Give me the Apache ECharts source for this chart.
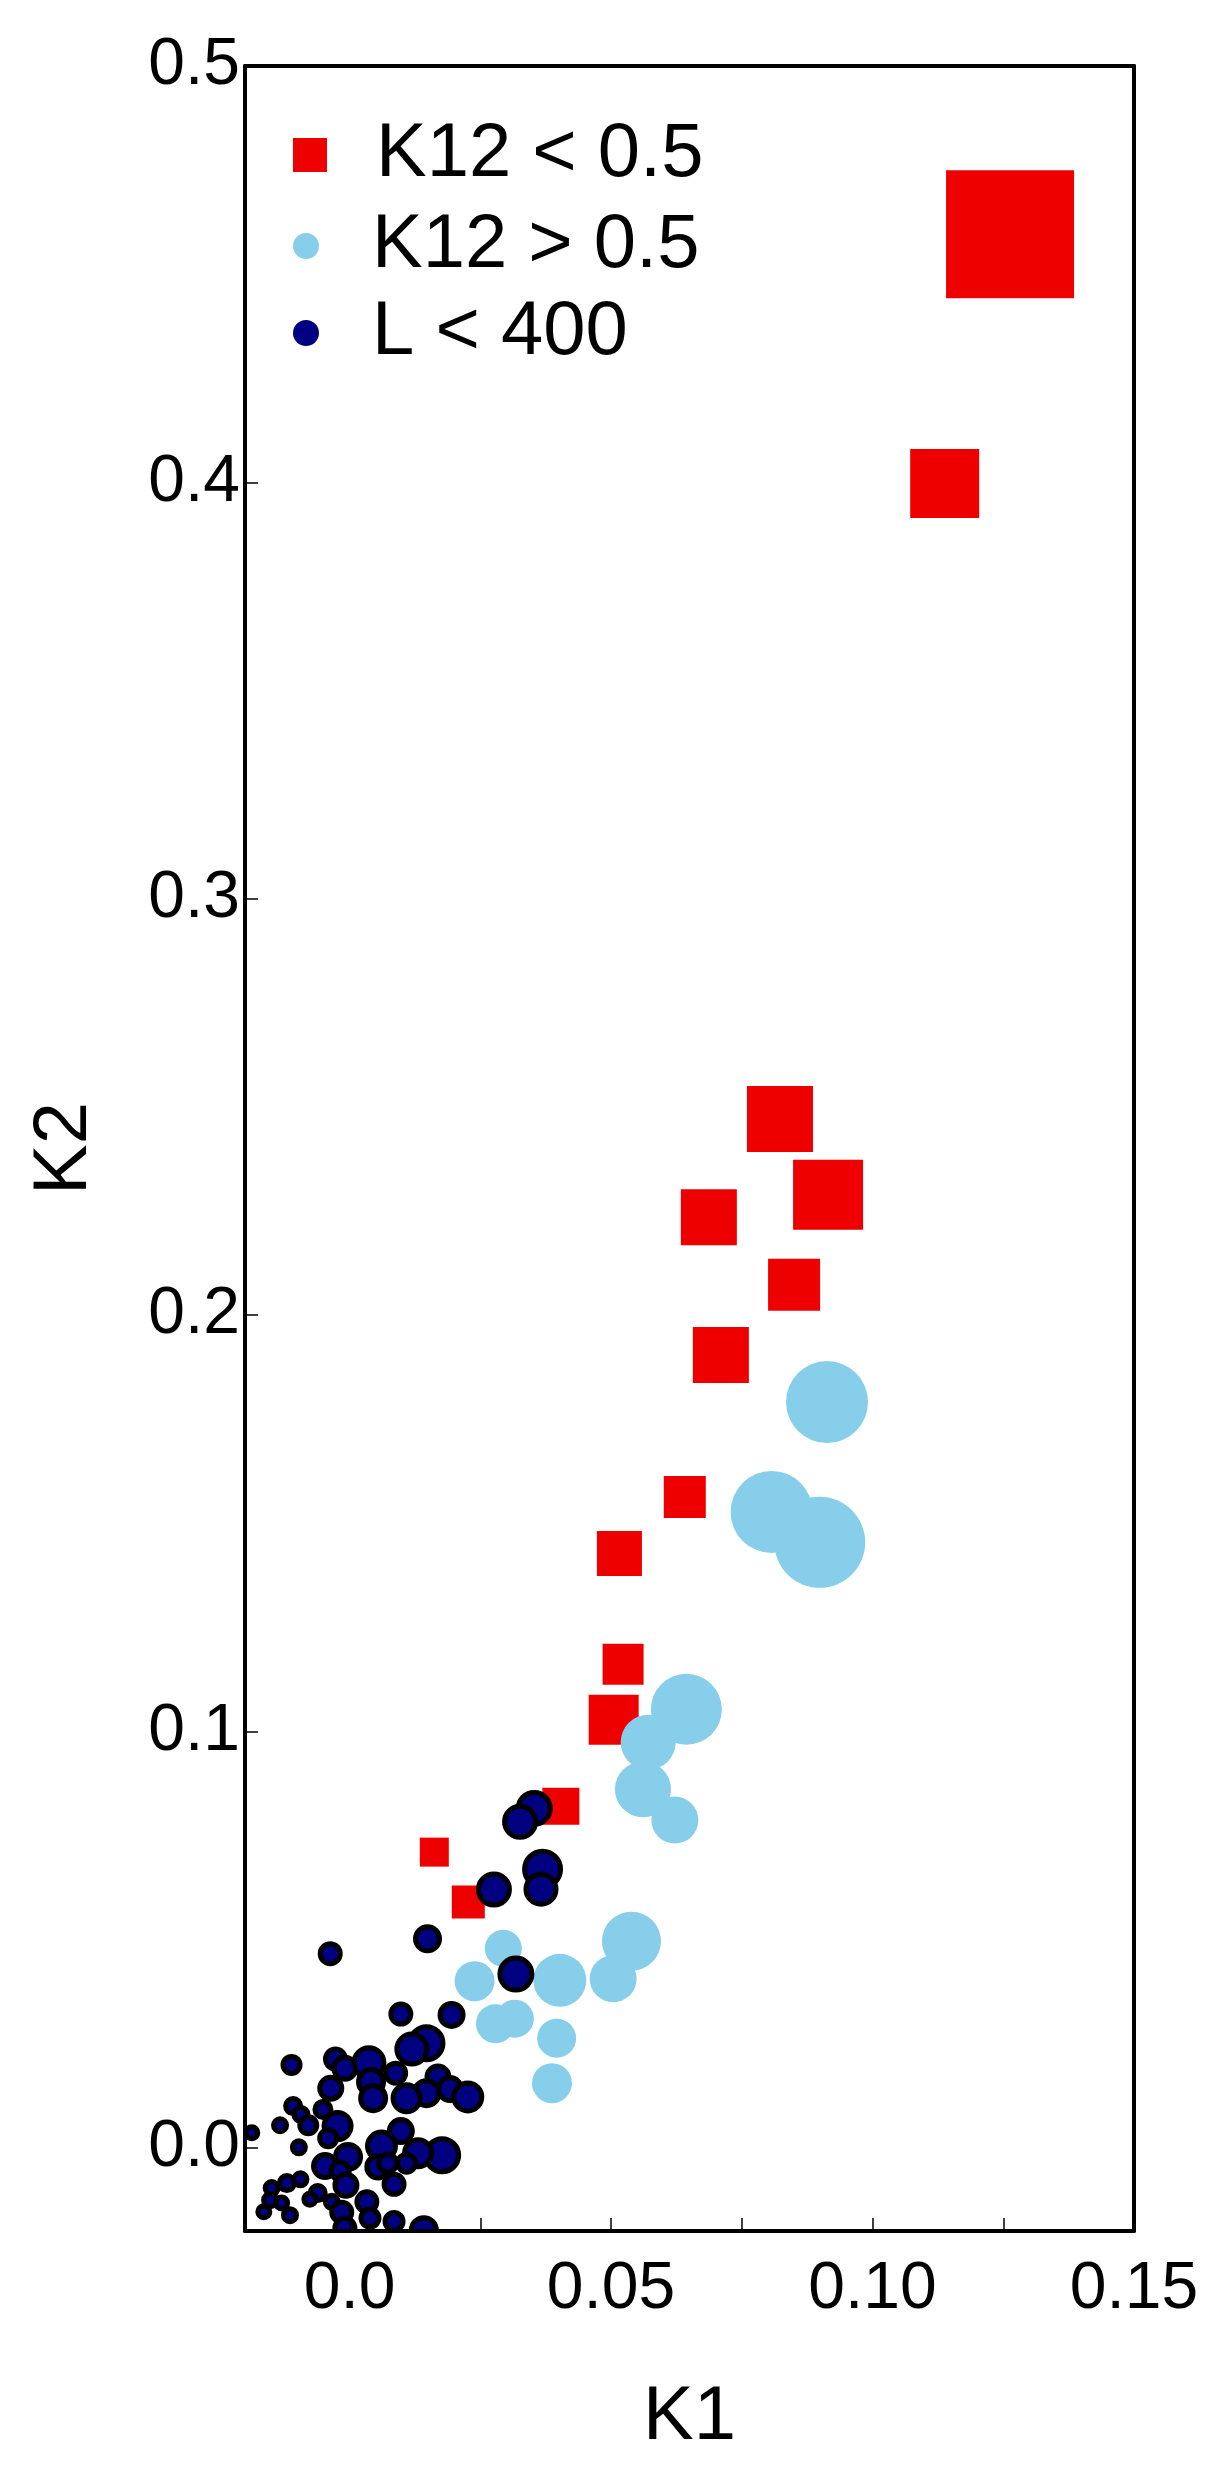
<!DOCTYPE html>
<html>
<head>
<meta charset="utf-8">
<script src="https://cdn.jsdelivr.net/npm/echarts@6/dist/echarts.min.js"></script>
<style>
html,body{margin:0;padding:0;background:#fff;}
#chart{width:1223px;height:2474px;}
</style>
</head>
<body>
<div id="chart"></div>
<script>
// ---- data (K1, K2, marker size) ----
const redK1   = [0.1263, 0.1138, 0.0823, 0.0915, 0.0687, 0.0850, 0.0710, 0.0641, 0.0516, 0.0523, 0.0505, 0.0404, 0.0162, 0.0227];
const redK2   = [0.4596, 0.3997, 0.2471, 0.2289, 0.2235, 0.2073, 0.1904, 0.1563, 0.1427, 0.1161, 0.1028, 0.0820, 0.0710, 0.0590];
const redSize = [128, 69, 66, 70, 56, 52, 56, 42, 45, 41, 50, 37, 29, 33];

const blueK1   = [0.0913, 0.0807, 0.0899, 0.0644, 0.0571, 0.0561, 0.0622, 0.0539, 0.0504, 0.0402, 0.0294, 0.0239, 0.0279, 0.0316, 0.0396, 0.0387];
const blueK2   = [0.1791, 0.1527, 0.1454, 0.1053, 0.0974, 0.0861, 0.0787, 0.0496, 0.0406, 0.0402, 0.0479, 0.0400, 0.0298, 0.0310, 0.0263, 0.0155];
const blueSize = [82, 82, 91, 71, 55, 56, 47, 59, 47, 53, 37, 40, 39, 38, 39, 40];

const navyK1 = [0.0353, 0.0326, 0.0369, 0.0366, 0.0276, 0.0149, -0.0037, 0.0318,
  0.0098, 0.0195, 0.0147, 0.0119, -0.0111, -0.0027, -0.0009, 0.0037, 0.0088, 0.0169,
  0.0041, 0.0045, -0.0036, 0.0147, 0.0192, 0.0226, 0.0109, -0.0108, -0.0051, -0.0093,
  -0.0079, -0.0133, -0.0187, -0.0023, 0.0098, -0.0041, -0.0097, 0.0061, 0.0177, 0.0131,
  -0.0003, -0.0047, -0.0018, 0.0054, 0.0073, 0.0109, -0.0007, 0.0085, -0.0120, -0.0094,
  -0.0149, -0.0061, -0.0076, -0.0152, -0.0130, -0.0034, 0.0033, -0.0164, -0.0114, -0.0015,
  0.0039, 0.0085, 0.0142, -0.0009];
const navyK2 = [0.0815, 0.0783, 0.0669, 0.0621, 0.0620, 0.0502, 0.0466, 0.0417,
  0.0321, 0.0319, 0.0251, 0.0237, 0.0199, 0.0213, 0.0191, 0.0204, 0.0179, 0.0170,
  0.0158, 0.0119, 0.0143, 0.0131, 0.0141, 0.0122, 0.0119, 0.0100, 0.0092, 0.0080,
  0.0054, 0.0054, 0.0036, 0.0052, 0.0040, 0.0023, 0.0001, 0.0004, -0.0018, -0.0013,
  -0.0022, -0.0044, -0.0056, -0.0046, -0.0037, -0.0037, -0.0090, -0.0088, -0.0085, -0.0076,
  -0.0097, -0.0109, -0.0124, -0.0126, -0.0133, -0.0130, -0.0130, -0.0154, -0.0162, -0.0155,
  -0.0169, -0.0177, -0.0198, -0.0193];
const navySize = [37, 36, 41, 35, 36, 29, 25, 37,
  25, 28, 38, 35, 22, 25, 27, 35, 25, 27,
  30, 30, 27, 30, 28, 33, 32, 20, 21, 19,
  22, 18, 17, 32, 28, 22, 18, 33, 38, 32,
  30, 28, 23, 27, 23, 23, 27, 25, 20, 18,
  18, 20, 17, 18, 17, 18, 25, 17, 18, 25,
  23, 23, 30, 25];

const xTickValues  = [0, 0.025, 0.05, 0.075, 0.1, 0.125, 0.15];
const xLabelValues = [0, 0.05, 0.1, 0.15];
const yLabelValues = [0, 0.1, 0.2, 0.3, 0.4, 0.5];
const seriesNames  = ['K12 < 0.5', 'K12 > 0.5', 'L < 400'];

function zip(a, b, c) { return a.map((v, i) => [v, b[i], c[i]]); }

const FONT = '"Liberation Sans", Arial, Helvetica, sans-serif';
const chart = echarts.init(document.getElementById('chart'), null, {renderer: 'canvas'});

const G = {left: 245, top: 66, width: 889, height: 2165};
const LEG_LEFT = 293;
const NAVY_BORDER = 5;

const option = {
  backgroundColor: '#fff',
  animation: false,
  grid: {left: G.left, top: G.top, width: G.width, height: G.height, show: false},
  xAxis: [{
    type: 'value', min: -0.02, max: 0.15, position: 'bottom', z: 10,
    axisLine: {show: true, onZero: false, lineStyle: {color: '#000', width: 4}},
    axisTick: {show: true, inside: true, length: 13, customValues: xTickValues, lineStyle: {color: '#000', width: 1.5}},
    axisLabel: {customValues: xLabelValues, fontSize: 66, fontFamily: FONT, color: '#000', margin: 26,
      formatter: v => (v === 0 ? '0.0' : v.toFixed(2))},
    splitLine: {show: false},
    name: 'K1', nameLocation: 'middle', nameGap: 149,
    nameTextStyle: {fontSize: 76, fontFamily: FONT, color: '#000'}
  }, {
    type: 'value', min: -0.02, max: 0.15, position: 'top', z: 10,
    axisLine: {show: true, onZero: false, lineStyle: {color: '#000', width: 4}},
    axisTick: {show: false}, axisLabel: {show: false}, splitLine: {show: false}
  }],
  yAxis: [{
    type: 'value', min: -0.02, max: 0.5, position: 'left', z: 10,
    axisLine: {show: true, onZero: false, lineStyle: {color: '#000', width: 4}},
    axisTick: {show: true, inside: true, length: 13, customValues: yLabelValues, lineStyle: {color: '#000', width: 1.5}},
    axisLabel: {customValues: yLabelValues, fontSize: 66, fontFamily: FONT, color: '#000', margin: 5,
      formatter: v => v.toFixed(1)},
    splitLine: {show: false},
    name: 'K2', nameLocation: 'middle', nameGap: 142,
    nameTextStyle: {fontSize: 76, fontFamily: FONT, color: '#000'}
  }, {
    type: 'value', min: -0.02, max: 0.5, position: 'right', z: 10,
    axisLine: {show: true, onZero: false, lineStyle: {color: '#000', width: 4}},
    axisTick: {show: false}, axisLabel: {show: false}, splitLine: {show: false}
  }],
  legend: [{
    data: [seriesNames[0]], left: LEG_LEFT, top: 117, orient: 'vertical', padding: 0,
    itemWidth: 122, itemHeight: 34, icon: 'path://M0,0L1,0L1,1L0,1Z', selectedMode: false,
    textStyle: {fontSize: 76, fontFamily: FONT, color: '#000'}
  }, {
    data: [seriesNames[1]], left: LEG_LEFT, top: 208, orient: 'vertical', padding: 0,
    itemWidth: 122, itemHeight: 26, icon: 'circle', selectedMode: false,
    textStyle: {fontSize: 76, fontFamily: FONT, color: '#000'}
  }, {
    data: [seriesNames[2]], left: LEG_LEFT, top: 295, orient: 'vertical', padding: 0,
    itemWidth: 122, itemHeight: 26, icon: 'circle', selectedMode: false,
    itemStyle: {borderWidth: 0},
    textStyle: {fontSize: 76, fontFamily: FONT, color: '#000'}
  }],
  graphic: [{
    type: 'rect', z: 5, left: G.left - 2, top: G.top + G.height + 2,
    shape: {width: G.width + 4, height: 22}, style: {fill: '#fff'}
  }],
  series: [{
    name: seriesNames[0], type: 'scatter', symbol: 'rect',
    symbolSize: d => d[2],
    itemStyle: {color: '#EE0000', opacity: 1},
    data: zip(redK1, redK2, redSize)
  }, {
    name: seriesNames[1], type: 'scatter', symbol: 'circle',
    symbolSize: d => d[2],
    itemStyle: {color: '#87CEEB', opacity: 1},
    data: zip(blueK1, blueK2, blueSize)
  }, {
    name: seriesNames[2], type: 'scatter', symbol: 'circle',
    symbolSize: d => d[2] - NAVY_BORDER,
    itemStyle: {color: '#000080', borderColor: '#000', borderWidth: NAVY_BORDER, opacity: 1},
    data: zip(navyK1, navyK2, navySize)
  }]
};
chart.setOption(option);
</script>
</body>
</html>
